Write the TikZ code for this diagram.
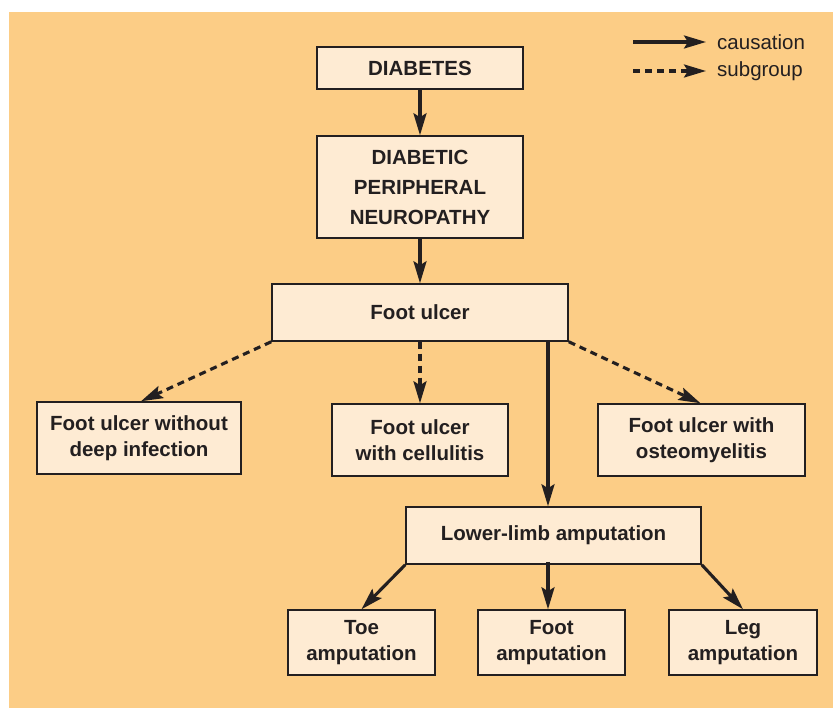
\documentclass[tikz,border=0pt]{standalone}
\usepackage{fontspec}
\setmainfont{Liberation Sans}
\usetikzlibrary{arrows.meta}
\definecolor{bgorange}{HTML}{FCCD86}
\definecolor{boxfill}{HTML}{FEEBD3}
\definecolor{ink}{HTML}{231F20}
\tikzset{
	box/.style={draw=ink, line width=1.5pt, fill=boxfill, align=center, inner sep=0pt,
		text=ink, font=\fontsize{20.5}{26}\selectfont\bfseries},
	cause/.style={-{Stealth[length=22pt,width=13pt,inset=4pt]}, line width=3.1pt, draw=ink},
	sub/.style={cause, dash pattern=on 7pt off 5pt},
	legtext/.style={anchor=west, inner sep=0pt, text=ink, font=\fontsize{20.5}{24}\selectfont},
}
\begin{document}
\begin{tikzpicture}[x=1pt,y=-1pt]
	\useasboundingbox (0,0) rectangle (833,708);
	\fill[bgorange] (9,12) rectangle (833,708);
	% main chain
	\node[box, minimum width=206pt, minimum height=42pt] (dia) at (420,68) {DIABETES};
	\node[box, minimum width=206pt, minimum height=102pt] (dpn) at (420,187) {DIABETIC\\[4pt] PERIPHERAL\\[4pt] NEUROPATHY};
	\node[box, minimum width=296pt, minimum height=57pt] (fu) at (420,312.5) {Foot ulcer};
	% subgroups of foot ulcer
	\node[box, minimum width=204pt, minimum height=72pt] (fwo) at (139,438) {Foot ulcer without\\ deep infection};
	\node[box, minimum width=176pt, minimum height=72pt] (fc) at (420,440) {Foot ulcer\\ with cellulitis};
	\node[box, minimum width=207pt, minimum height=72pt] (fo) at (701.5,440) {Foot ulcer with\\ osteomyelitis};
	% amputation
	\node[box, minimum width=295pt, minimum height=57pt] (lla) at (553.5,535.5) {Lower-limb amputation};
	\node[box, minimum width=147pt, minimum height=65pt] (toe) at (361.5,642.5) {Toe\\ amputation};
	\node[box, minimum width=147pt, minimum height=65pt] (ft) at (551.5,642.5) {Foot\\ amputation};
	\node[box, minimum width=148pt, minimum height=65pt] (leg) at (743,642.5) {Leg\\ amputation};
	% connectors
	\draw[cause] (dia) -- (dpn);
	\draw[cause] (dpn) -- (fu);
	\draw[sub] (fu.south west) -- ([xshift=2pt]fwo.north);
	\draw[sub] (fu) -- (fc);
	\draw[sub] (fu.south east) -- ([xshift=-1pt]fo.north);
	\draw[cause] ([xshift=128pt]fu.south) -- ([xshift=-5.5pt]lla.north);
	\draw[cause] (lla.south west) -- (toe.north);
	\draw[cause] ([xshift=-5.5pt,yshift=3pt]lla.south) -- ([xshift=-3.5pt]ft.north);
	\draw[cause] (lla.south east) -- (leg.north);
	% legend
	\coordinate (c1) at (633,42);
	\coordinate (c2) at (706,42);
	\coordinate (s1) at (633,71);
	\coordinate (s2) at (706,71);
	\draw[cause] (c1) -- (c2);
	\draw[sub] (s1) -- (s2);
	\node[legtext] (lcause) at (717,42) {causation};
	\node[legtext] (lsub) at (717,71) {subgroup};
\end{tikzpicture}
\end{document}
